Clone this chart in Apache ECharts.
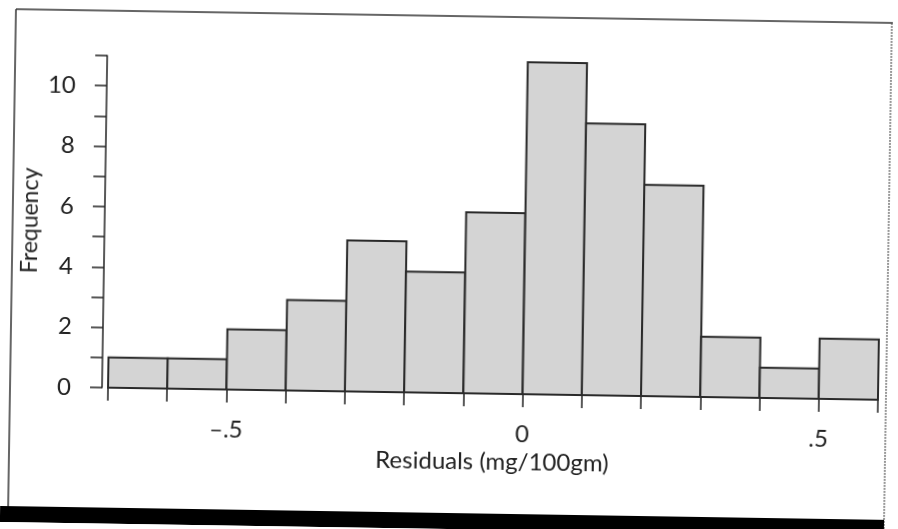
<!DOCTYPE html>
<html>
<head>
<meta charset="utf-8">
<script src="https://cdn.jsdelivr.net/npm/echarts@6/dist/echarts.min.js"></script>
<style>
  html, body { margin: 0; padding: 0; background: #fff; }
  #chart { width: 898px; height: 529px; transform: rotate(0.9deg); }
</style>
</head>
<body>
<div id="chart"></div>
<script>
// histogram bins (lower edge), width 0.1
const binStarts = [-0.7, -0.6, -0.5, -0.4, -0.3, -0.2, -0.1, 0, 0.1, 0.2, 0.3, 0.4, 0.5];
const counts = [1, 1, 2, 3, 5, 4, 6, 11, 9, 7, 2, 1, 2];
const binWidth = 0.1;
const xTickLabels = { "-5": "\u2013.5", "0": "0", "5": ".5" };

const chart = echarts.init(document.getElementById("chart"));
const font = "Lato, 'Open Sans', sans-serif";

chart.setOption({
  animation: false,
  grid: { left: 110, right: 18, top: 61, bottom: 136 },
  xAxis: {
    type: "value",
    min: -0.7,
    max: 0.6,
    interval: 0.1,
    splitLine: { show: false },
    axisLine: { show: true, onZero: false, lineStyle: { color: "#222", width: 1.5 } },
    axisTick: { show: true, length: 13, lineStyle: { color: "#222", width: 1.5 } },
    axisLabel: {
      margin: 28,
      color: "#222",
      fontFamily: font,
      fontSize: 24,
      formatter: (v) => xTickLabels[String(Math.round(v * 10))] || "",
    },
    name: "Residuals (mg/100gm)",
    nameLocation: "middle",
    nameGap: 56,
    nameMoveOverlap: false,
    nameTextStyle: { color: "#222", fontFamily: font, fontSize: 24 },
  },
  yAxis: {
    type: "value",
    min: 0,
    max: 11,
    interval: 1,
    offset: 6,
    splitLine: { show: false },
    axisLine: { show: true, onZero: false, lineStyle: { color: "#222", width: 1.5 } },
    axisTick: { show: true, length: 12, lineStyle: { color: "#222", width: 1.5 } },
    axisLabel: {
      margin: 31,
      color: "#222",
      fontFamily: font,
      fontSize: 24,
      formatter: (v) => (v % 2 === 0 ? String(v) : ""),
    },
    name: "Frequency",
    nameLocation: "middle",
    nameGap: 63,
    nameMoveOverlap: false,
    nameTextStyle: { color: "#222", fontFamily: font, fontSize: 23 },
  },
  graphic: [
    // scanned page frame
    { type: "line", shape: { x1: 12, y1: 16, x2: 889, y2: 16 }, style: { stroke: "#333", lineWidth: 1.5 } },
    { type: "line", shape: { x1: 12, y1: 16, x2: 12, y2: 514 }, style: { stroke: "#333", lineWidth: 1.5 } },
    { type: "line", shape: { x1: 888, y1: 16, x2: 888, y2: 527 }, style: { stroke: "#555", lineWidth: 1.2, lineDash: [2, 1] } },
    { type: "rect", shape: { x: 4, y: 513, width: 884, height: 16 }, style: { fill: "#000" } },
  ],
  series: [
    {
      type: "custom",
      data: binStarts.map((s, i) => [s, s + binWidth, counts[i]]),
      encode: { x: [0, 1], y: 2 },
      renderItem: (params, api) => {
        const p0 = api.coord([api.value(0), api.value(2)]);
        const p1 = api.coord([api.value(1), 0]);
        return {
          type: "rect",
          shape: { x: p0[0], y: p0[1], width: p1[0] - p0[0], height: p1[1] - p0[1] },
          style: { fill: "#d4d4d4", stroke: "#2a2a2a", lineWidth: 2 },
        };
      },
    },
  ],
});
</script>
</body>
</html>
